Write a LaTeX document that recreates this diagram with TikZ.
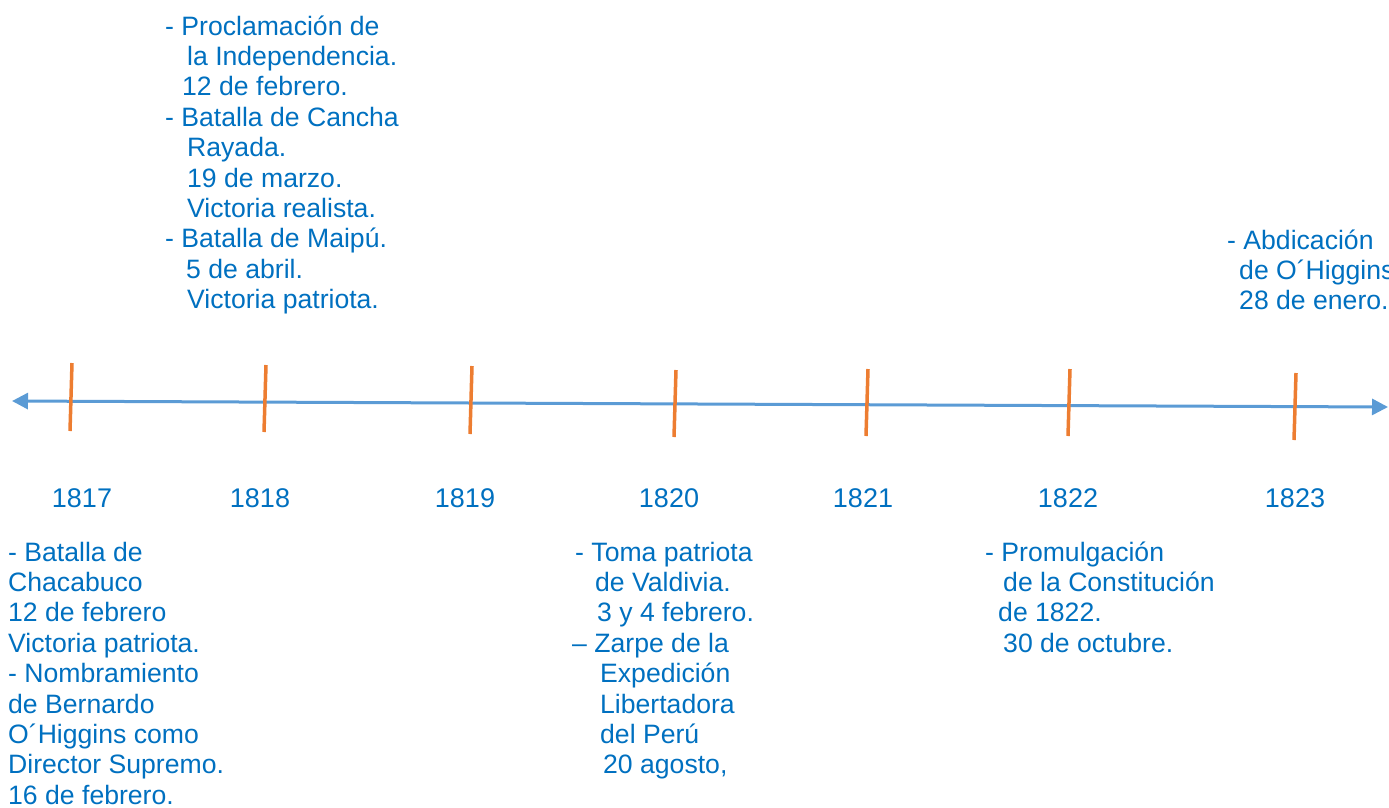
\documentclass[tikz,border=0pt]{standalone}
\usepackage{fontspec}
\setmainfont{Liberation Sans}
\usetikzlibrary{arrows.meta}
\definecolor{linea}{HTML}{5B9BD5}
\definecolor{marca}{HTML}{ED7D31}
\definecolor{texto}{HTML}{0070C0}
\tikzset{
  evento/.style={anchor=base west, align=left, inner sep=0pt, text=texto,
    font=\fontsize{26.6}{30.4}\selectfont},
  anio/.style={anchor=base, inner sep=0pt, text=texto,
    font=\fontsize{27}{30.4}\selectfont},
  marcas/.style={draw=marca, line width=3.5pt},
}
\newcommand{\ind}[1]{\hspace*{#1pt}}
\begin{document}
\begin{tikzpicture}[x=1pt,y=-1pt]
\useasboundingbox (0,0) rectangle (1389,807);
% linea del tiempo
\coordinate (izq) at (12,401);
\coordinate (der) at (1388,407);
\draw[linea, line width=3pt, {Triangle[length=16pt,width=16pt]}-{Triangle[length=16pt,width=16pt]}] (izq) -- (der);
% marcas y anios
\foreach \xa/\ya/\xb/\yb/\xt/\anio in {72/363/70/431/82/1817, 266/365/264/432/260/1818,
    472/366/470/434/465/1819, 676/370/674/437/669/1820, 868/369/866/436/863/1821,
    1070/369/1068/436/1068/1822, 1296/373/1294/440/1295/1823}{
  \coordinate (s\anio) at (\xa,\ya);
  \coordinate (i\anio) at (\xb,\yb);
  \draw[marcas] (s\anio) -- (i\anio);
  \node[anio] (a\anio) at (\xt,507) {\anio};
}
% eventos arriba (el ancla es la ultima linea)
\node[evento] (e1818) at (165,308.6) {- Proclamación de\\
  \ind{22}la Independencia.\\
  \ind{17}12 de febrero.\\
  - Batalla de Cancha\\
  \ind{22}Rayada.\\
  \ind{22}19 de marzo.\\
  \ind{22}Victoria realista.\\
  - Batalla de Maipú.\\
  \ind{21}5 de abril.\\
  \ind{22}Victoria patriota.};
\node[evento] (e1823) at (1227,309.8) {- Abdicación\\
  \ind{12}de O´Higgins\\
  \ind{12}28 de enero.};
% eventos abajo
\node[evento] (e1817) at (8,804.2) {- Batalla de\\
  Chacabuco\\
  12 de febrero\\
  Victoria patriota.\\
  - Nombramiento\\
  de Bernardo\\
  O´Higgins como\\
  Director Supremo.\\
  16 de febrero.};
\node[evento] (e1820) at (575,773.8) {- Toma patriota\\
  \ind{20}de Valdivia.\\
  \ind{22}3 y 4 febrero.\\
  \ind{-3}– Zarpe de la\\
  \ind{25}Expedición\\
  \ind{25}Libertadora\\
  \ind{25}del Perú\\
  \ind{28}20 agosto,};
\node[evento] (e1822) at (985,652.2) {- Promulgación\\
  \ind{18}de la Constitución\\
  \ind{13}de 1822.\\
  \ind{18}30 de octubre.};
\end{tikzpicture}
\end{document}
